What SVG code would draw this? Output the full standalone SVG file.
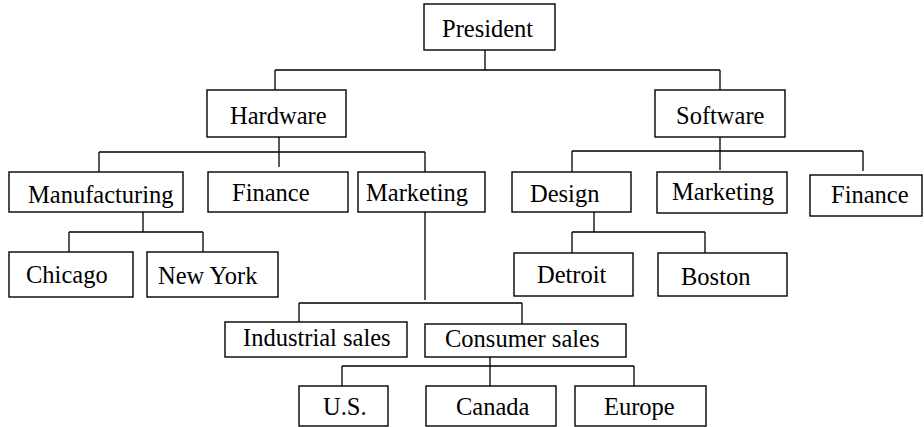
<svg xmlns="http://www.w3.org/2000/svg" width="924" height="427" viewBox="0 0 924 427" font-family="Liberation Serif, Tinos, Times New Roman, serif" font-size="24.5">
<style>
.b{fill:#fff;stroke:#000;stroke-width:1.4}
.t{fill:#000}
.c{fill:none;stroke:#000;stroke-width:1.3}
</style>
<rect width="924" height="427" fill="#fff"/>
<g id="connectors" class="c">
<path d="M485,50V70M275,70H720M275,70V90M720,70V90"/>
<path d="M279,137V167M99,152H425M99,152V172M425,152V172"/>
<path d="M720,137V170M572,151H863M572,151V172M863,151V171"/>
<path d="M143,212V232M69,232H203M69,232V252M203,232V252"/>
<path d="M594,212V232M572,232H705M572,232V253M705,232V253"/>
<path d="M425,212V300M299,303H522M299,303V322M522,303V324"/>
<path d="M490,357V386M342,366H634M342,366V386M634,366V386"/>
</g>
<g id="president"><rect class="b" x="424" y="4" width="131" height="46"/><text class="t" x="442" y="37">President</text></g>
<g id="hardware"><rect class="b" x="207" y="90" width="139" height="47"/><text class="t" x="230" y="124">Hardware</text></g>
<g id="software"><rect class="b" x="655" y="90" width="130" height="47"/><text class="t" x="676" y="124">Software</text></g>
<g id="manufacturing"><rect class="b" x="9" y="172" width="174" height="40"/><text class="t" x="28" y="203">Manufacturing</text></g>
<g id="finance-hw"><rect class="b" x="208" y="172" width="140" height="40"/><text class="t" x="232" y="201">Finance</text></g>
<g id="marketing-hw"><rect class="b" x="358" y="172" width="127" height="40"/><text class="t" x="366" y="201">Marketing</text></g>
<g id="design"><rect class="b" x="512" y="172" width="119" height="40"/><text class="t" x="530" y="202">Design</text></g>
<g id="marketing-sw"><rect class="b" x="657" y="172" width="130" height="41"/><text class="t" x="672" y="200">Marketing</text></g>
<g id="finance-sw"><rect class="b" x="810" y="175" width="112" height="41"/><text class="t" x="831" y="203">Finance</text></g>
<g id="chicago"><rect class="b" x="9" y="252" width="124" height="45"/><text class="t" x="26" y="283">Chicago</text></g>
<g id="newyork"><rect class="b" x="147" y="252" width="131" height="45"/><text class="t" x="158" y="284">New York</text></g>
<g id="detroit"><rect class="b" x="514" y="253" width="119" height="43"/><text class="t" x="537" y="283">Detroit</text></g>
<g id="boston"><rect class="b" x="658" y="253" width="129" height="43"/><text class="t" x="681" y="285">Boston</text></g>
<g id="industrial"><rect class="b" x="225" y="322" width="182" height="35"/><text class="t" x="243" y="346">Industrial sales</text></g>
<g id="consumer"><rect class="b" x="425" y="324" width="201" height="33"/><text class="t" x="445" y="347">Consumer sales</text></g>
<g id="us"><rect class="b" x="299" y="386" width="89" height="40"/><text class="t" x="323" y="415">U.S.</text></g>
<g id="canada"><rect class="b" x="426" y="386" width="130" height="40"/><text class="t" x="456" y="415">Canada</text></g>
<g id="europe"><rect class="b" x="575" y="386" width="131" height="40"/><text class="t" x="604" y="415">Europe</text></g>
</svg>
